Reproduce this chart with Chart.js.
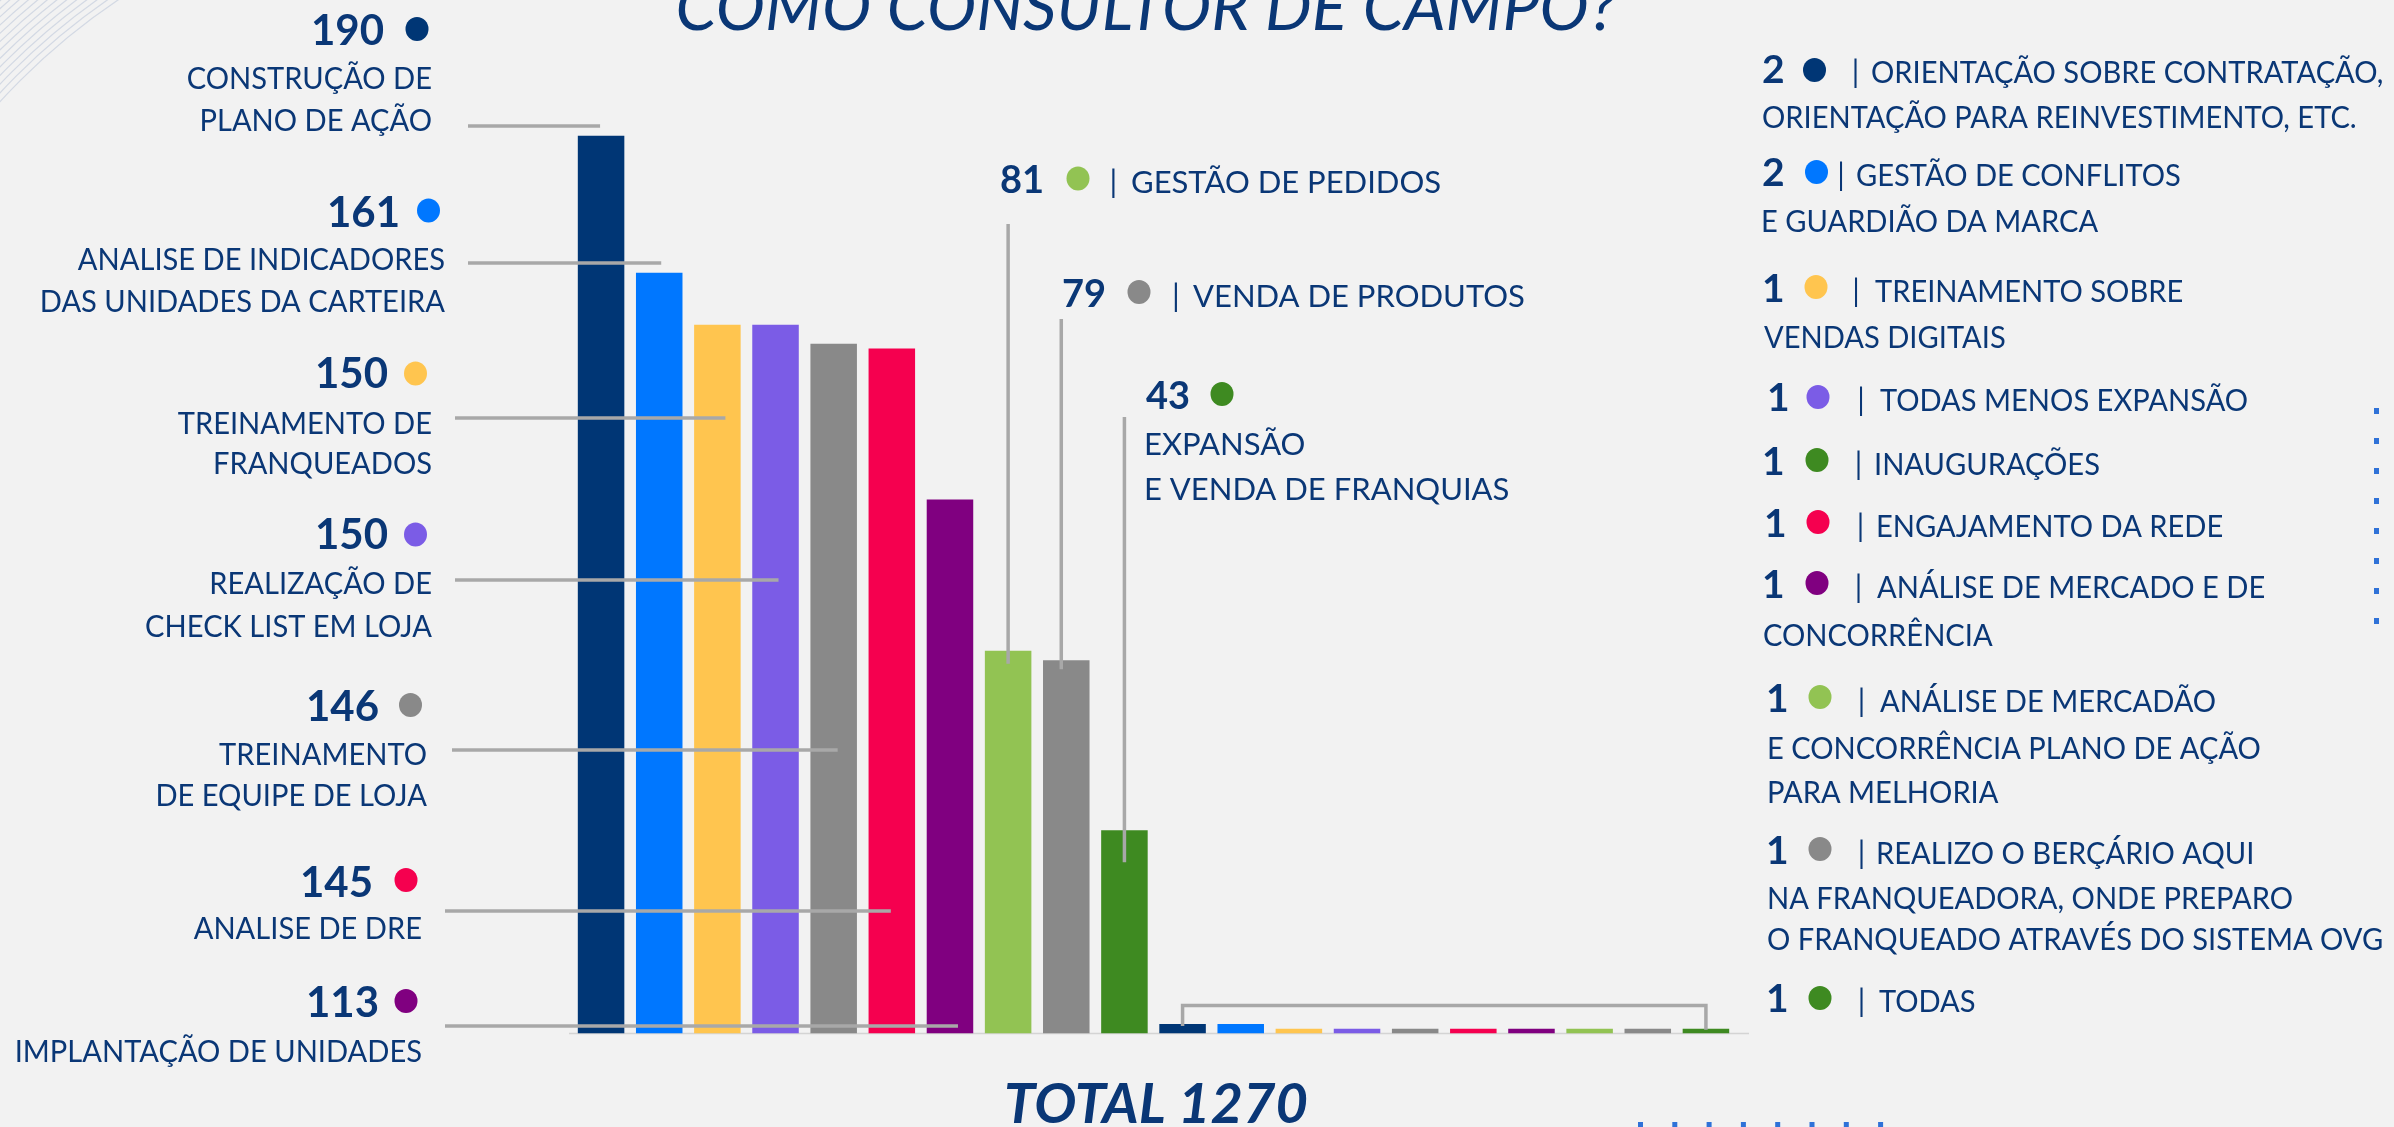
<!DOCTYPE html>
<html lang="pt-BR">
<head>
<meta charset="utf-8">
<title>Como consultor de campo?</title>
<script src="https://cdn.jsdelivr.net/npm/chart.js@4.4.1/dist/chart.umd.min.js"></script>
<style>
  html, body { margin: 0; padding: 0; background: #f2f2f2; overflow: hidden; }
  #wrap { position: relative; width: 2394px; height: 1127px; }
</style>
</head>
<body>
<div id="wrap"><canvas id="chart"></canvas></div>
<script>
// ---- data ----
const titleText = 'COMO CONSULTOR DE CAMPO?';

const labelLines = [
  ['CONSTRUÇÃO DE', 'PLANO DE AÇÃO'],
  ['ANALISE DE INDICADORES', 'DAS UNIDADES DA CARTEIRA'],
  ['TREINAMENTO DE', 'FRANQUEADOS'],
  ['REALIZAÇÃO DE', 'CHECK LIST EM LOJA'],
  ['TREINAMENTO', 'DE EQUIPE DE LOJA'],
  ['ANALISE DE DRE'],
  ['IMPLANTAÇÃO DE UNIDADES'],
  ['| GESTÃO DE PEDIDOS'],
  ['| VENDA DE PRODUTOS'],
  ['EXPANSÃO', 'E VENDA DE FRANQUIAS'],
  ['| ORIENTAÇÃO SOBRE CONTRATAÇÃO,', 'ORIENTAÇÃO PARA REINVESTIMENTO, ETC.'],
  ['| GESTÃO DE CONFLITOS', 'E GUARDIÃO DA MARCA'],
  ['| TREINAMENTO SOBRE', 'VENDAS DIGITAIS'],
  ['| TODAS MENOS EXPANSÃO'],
  ['| INAUGURAÇÕES'],
  ['| ENGAJAMENTO DA REDE'],
  ['| ANÁLISE DE MERCADO E DE', 'CONCORRÊNCIA'],
  ['| ANÁLISE DE MERCADÃO', 'E CONCORRÊNCIA PLANO DE AÇÃO', 'PARA MELHORIA'],
  ['| REALIZO O BERÇÁRIO AQUI', 'NA FRANQUEADORA, ONDE PREPARO', 'O FRANQUEADO ATRAVÉS DO SISTEMA OVG'],
  ['| TODAS']
];

const categories = labelLines.map(l => l.join(' ').replace(/^\| /, ''));

const values = [190, 161, 150, 150, 146, 145, 113, 81, 79, 43, 2, 2, 1, 1, 1, 1, 1, 1, 1, 1];

const NAVY = '#003675', BLUE = '#0077ff', YELLOW = '#ffc54f', VIOLET = '#7b5ce6',
      GRAY = '#898989', PINK = '#f5004f', PURPLE = '#800080', LIME = '#92c353', GREEN = '#3e8a21';

const barColors = [NAVY, BLUE, YELLOW, VIOLET, GRAY, PINK, PURPLE, LIME, GRAY, GREEN,
                   NAVY, BLUE, YELLOW, VIOLET, GRAY, PINK, PURPLE, LIME, GRAY, GREEN];

const dotColors = [NAVY, BLUE, YELLOW, VIOLET, GRAY, PINK, PURPLE, LIME, GRAY, GREEN,
                   NAVY, BLUE, YELLOW, VIOLET, GREEN, PINK, PURPLE, LIME, GRAY, GREEN];

const total = values.reduce((a, b) => a + b, 0);

// ---- layout of the callouts ----
const TEXT = '#0a3776';
const LEADER = '#a8a8a8';
const FONT = 'Lato, "Open Sans", sans-serif';
const SIDE_SQUEEZE = 0.97;   // side columns are set a little narrower

// left column: right-aligned, horizontal leader to the bar
const leftSpots = [
  { nx: 384, ny: 45,   dotX: 417,   dotY: 29,    tx: 432, ty: [89, 131],  lx: 468, ly: 126,  ldx: -1 },
  { nx: 400, ny: 227,  dotX: 428.5, dotY: 210.5, tx: 445, ty: [270, 312], lx: 468, ly: 263,  ldx: 2 },
  { nx: 388, ny: 388,  dotX: 415.5, dotY: 373.5, tx: 432, ty: [434, 474], lx: 455, ly: 418,  ldx: 8 },
  { nx: 388, ny: 549,  dotX: 415.5, dotY: 534.5, tx: 432, ty: [594, 637], lx: 455, ly: 580,  ldx: 3 },
  { nx: 379, ny: 721,  dotX: 410.5, dotY: 705,   tx: 427, ty: [765, 806], lx: 452, ly: 750,  ldx: 4 },
  { nx: 373, ny: 897,  dotX: 406,   dotY: 880,   tx: 422, ty: [939],      lx: 445, ly: 911,  ldx: -1 },
  { nx: 379, ny: 1017, dotX: 406,   dotY: 1001,  tx: 422, ty: [1062],     lx: 445, ly: 1026, ldx: 8 }
];

// middle: left-aligned, vertical leader down into the bar
const midSpots = [
  { nx: 1000, ny: 193, dotX: 1078, dotY: 178.5, px: 1113.5, tx: 1131, ty: [193],      vTop: 224, vdx: 0,  vExt: 13 },
  { nx: 1062, ny: 307, dotX: 1139, dotY: 292,   px: 1176,   tx: 1193, ty: [307],      vTop: 319, vdx: -5, vExt: 9 },
  { nx: 1146, ny: 409, dotX: 1222, dotY: 394,   px: null,   tx: 1144, ty: [455, 500], vTop: 417, vdx: 0,  vExt: 32 }
];

// right column list for the small bars
const rightSpots = [
  { nx: 1762, ny: 83,   dotX: 1814.5, dotY: 70,  px: 1855.5, tx: 1871, ty: [83, 128],       lx: 1762 },
  { nx: 1762, ny: 186,  dotX: 1816.5, dotY: 172, px: 1841,   tx: 1856, ty: [186, 232],      lx: 1761 },
  { nx: 1762, ny: 302,  dotX: 1816,   dotY: 287, px: 1856,   tx: 1875, ty: [302, 348],      lx: 1764 },
  { nx: 1767, ny: 411,  dotX: 1818,   dotY: 397, px: 1861,   tx: 1880, ty: [411] },
  { nx: 1762, ny: 475,  dotX: 1817,   dotY: 460, px: 1858.5, tx: 1874, ty: [475] },
  { nx: 1764, ny: 537,  dotX: 1818,   dotY: 522, px: 1860.5, tx: 1876, ty: [537] },
  { nx: 1762, ny: 598,  dotX: 1817,   dotY: 583, px: 1858.5, tx: 1877, ty: [598, 646],      lx: 1763 },
  { nx: 1766, ny: 712,  dotX: 1820,   dotY: 697, px: 1861.5, tx: 1880, ty: [712, 759, 803], lx: 1767 },
  { nx: 1766, ny: 864,  dotX: 1820,   dotY: 849, px: 1861.5, tx: 1876, ty: [864, 909, 950], lx: 1767 },
  { nx: 1766, ny: 1012, dotX: 1820,   dotY: 998, px: 1861.5, tx: 1879, ty: [1012] }
];

function dot(ctx, x, y, color) {
  ctx.fillStyle = color;
  ctx.beginPath();
  ctx.ellipse(x, y, 11.5, 12, 0, 0, Math.PI * 2);
  ctx.fill();
}

function line(ctx, x0, y0, x1, y1) {
  ctx.beginPath();
  ctx.moveTo(x0, y0);
  ctx.lineTo(x1, y1);
  ctx.stroke();
}

// text with an optional horizontal squeeze around its anchor point
function squeezed(ctx, str, x, y, align, sx) {
  ctx.save();
  ctx.translate(x, y);
  ctx.scale(sx, 1);
  ctx.textAlign = align;
  ctx.fillText(str, 0, 0);
  ctx.restore();
}

// one text line; a leading "| " becomes a separate divider glyph
function textLine(ctx, str, x, y, pipeX, align, sx) {
  if (str.startsWith('| ') && pipeX != null) {
    squeezed(ctx, '|', pipeX, y, 'center', 1);
    squeezed(ctx, str.slice(2), x, y, align, sx);
  } else {
    squeezed(ctx, str, x, y, align, sx);
  }
}

const decorPlugin = {
  id: 'decor',
  beforeDraw(chart) {
    const ctx = chart.ctx;
    ctx.save();
    // thin arcs in the top-left corner
    ctx.strokeStyle = 'rgba(140,160,195,0.30)';
    ctx.lineWidth = 1.2;
    for (let r = 650; r <= 722; r += 6) {
      ctx.beginPath();
      ctx.arc(480, 540, r, Math.PI, Math.PI * 1.5);
      ctx.stroke();
    }
    // dotted accents
    ctx.fillStyle = '#2f72d8';
    for (let k = 0; k < 8; k++) ctx.fillRect(2374, 408 + k * 30, 5, 6);
    for (let k = 0; k < 8; k++) ctx.fillRect(1638 + k * 34.3, 1122, 5, 6);
    ctx.restore();
  },
  beforeDatasetsDraw(chart) {
    const ctx = chart.ctx, base = chart.scales.y.getPixelForValue(0);
    ctx.save();
    ctx.strokeStyle = '#d4d4d4';
    ctx.lineWidth = 1.5;
    line(ctx, chart.chartArea.left - 3, base, chart.chartArea.right + 14, base);
    ctx.restore();
  },
  afterDatasetsDraw(chart) {
    const ctx = chart.ctx;
    const xs = chart.scales.x;
    const bars = chart.getDatasetMeta(0).data;
    ctx.save();

    // leader lines
    ctx.strokeStyle = LEADER;
    ctx.lineWidth = 3.5;
    ctx.lineCap = 'butt';
    leftSpots.forEach((s, i) => line(ctx, s.lx, s.ly, xs.getPixelForValue(i) + s.ldx, s.ly));
    midSpots.forEach((s, k) => {
      const i = 7 + k;
      const x = xs.getPixelForValue(i) + s.vdx;
      line(ctx, x, s.vTop, x, bars[i].y + s.vExt);
    });
    const bx0 = xs.getPixelForValue(10), bx1 = xs.getPixelForValue(19), by = 1005.5;
    ctx.beginPath();
    ctx.moveTo(bx0, bars[10].y + 2);
    ctx.lineTo(bx0, by);
    ctx.lineTo(bx1, by);
    ctx.lineTo(bx1, bars[19].y + 1);
    ctx.stroke();

    ctx.textBaseline = 'alphabetic';

    // left callouts
    leftSpots.forEach((s, i) => {
      ctx.fillStyle = TEXT;
      ctx.font = `700 42px ${FONT}`;
      ctx.textAlign = 'right';
      ctx.fillText(String(values[i]), s.nx, s.ny);
      dot(ctx, s.dotX, s.dotY, dotColors[i]);
      ctx.fillStyle = TEXT;
      ctx.font = `400 30px ${FONT}`;
      labelLines[i].forEach((t, j) => textLine(ctx, t, s.tx, s.ty[j], null, 'right', SIDE_SQUEEZE));
    });

    // middle callouts
    midSpots.forEach((s, k) => {
      const i = 7 + k;
      ctx.fillStyle = TEXT;
      ctx.font = `700 38px ${FONT}`;
      ctx.textAlign = 'left';
      ctx.fillText(String(values[i]), s.nx, s.ny);
      dot(ctx, s.dotX, s.dotY, dotColors[i]);
      ctx.fillStyle = TEXT;
      ctx.font = `400 31px ${FONT}`;
      labelLines[i].forEach((t, j) => textLine(ctx, t, s.tx, s.ty[j], s.px, 'left', 1));
    });

    // right list
    rightSpots.forEach((s, k) => {
      const i = 10 + k;
      ctx.fillStyle = TEXT;
      ctx.font = `700 39px ${FONT}`;
      ctx.textAlign = 'left';
      ctx.fillText(String(values[i]), s.nx, s.ny);
      dot(ctx, s.dotX, s.dotY, dotColors[i]);
      ctx.fillStyle = TEXT;
      ctx.font = `400 30px ${FONT}`;
      labelLines[i].forEach((t, j) => {
        if (j === 0) textLine(ctx, t, s.tx, s.ty[j], s.px, 'left', SIDE_SQUEEZE);
        else textLine(ctx, t, s.lx, s.ty[j], null, 'left', SIDE_SQUEEZE);
      });
    });

    // heading and total
    ctx.fillStyle = TEXT;
    ctx.textAlign = 'center';
    ctx.font = `italic 400 66px ${FONT}`;
    ctx.fillText(titleText, 1146, 30);
    ctx.font = `italic 700 56px ${FONT}`;
    ctx.fillText('TOTAL ' + total, 1156, 1123);

    ctx.restore();
  }
};

new Chart(document.getElementById('chart'), {
  type: 'bar',
  data: {
    labels: categories,
    datasets: [{
      data: values,
      backgroundColor: barColors,
      borderWidth: 0,
      barPercentage: 0.8,
      categoryPercentage: 1.0
    }]
  },
  options: {
    responsive: true,
    maintainAspectRatio: false,
    devicePixelRatio: 1,
    animation: false,
    events: [],
    layout: { padding: { left: 572, right: 659, top: 88.5, bottom: 93.5 } },
    plugins: { legend: { display: false }, tooltip: { enabled: false }, title: { display: false } },
    scales: {
      x: { display: false, grid: { display: false } },
      y: { display: false, min: 0, max: 200, grid: { display: false } }
    }
  },
  plugins: [decorPlugin]
});
</script>
</body>
</html>
